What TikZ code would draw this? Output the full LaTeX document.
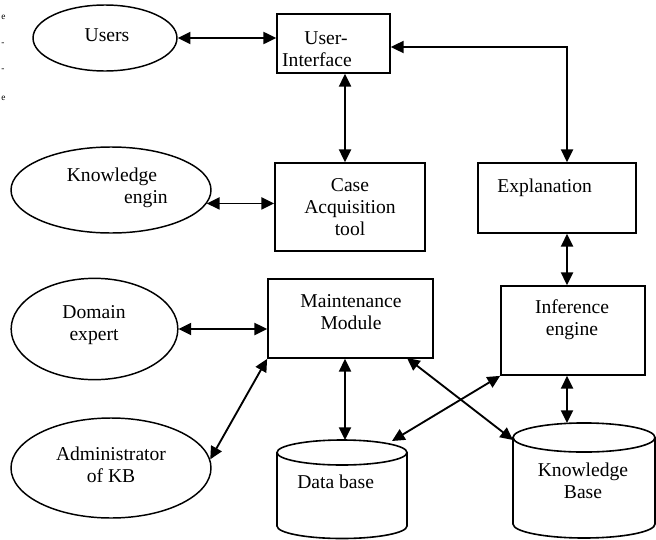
\documentclass[tikz,border=0pt]{standalone}
\usepackage{fontspec}
\setmainfont{Liberation Serif}
\usetikzlibrary{arrows.meta,shapes.geometric}
\begin{document}
\begin{tikzpicture}[x=0.75pt,y=-0.75pt,
  txt/.style={inner sep=0pt,align=center,font=\fontsize{14.7}{16.5}\selectfont},
  frag/.style={inner sep=0pt,anchor=west,font=\fontsize{7}{8}\selectfont},
  boxn/.style={draw,line width=1.3pt,inner sep=0pt},
  ell/.style={draw,ellipse,line width=1.1pt,inner sep=0pt},
  arr/.style={{Triangle[length=9.5pt,width=9pt]}-{Triangle[length=9.5pt,width=9pt]},line width=1.4pt},
  cyl/.style={line width=1.2pt}]
\useasboundingbox (0,0) rectangle (656,539);
% page fragments at left edge
\node[frag] (f1) at (1,17) {e};
\node[frag] (f2) at (1,44) {-};
\node[frag] (f3) at (1,70) {-};
\node[frag] (f4) at (1,98) {e};
% ellipses
\node[ell,minimum width=108pt,minimum height=49.5pt] (users) at (105,38) {};
\node[txt] (userst) at (107,35) {Users};
\node[ell,minimum width=150pt,minimum height=64.5pt] (ke) at (111,190) {};
\node[txt] (ket1) at (112,177) {Knowledge};
\node[txt] (ket2) at (146,199) {engin};
\node[ell,minimum width=125pt,minimum height=76pt] (dom) at (94.5,329) {};
\node[txt] (domt) at (94,325) {Domain\\expert};
\node[ell,minimum width=150pt,minimum height=75pt] (adm) at (111,468) {};
\node[txt] (admt) at (111,465) {Administrator\\of KB};
% boxes
\node[boxn,minimum width=84.75pt,minimum height=44.25pt] (ui) at (333.5,43.5) {};
\node[txt] (uit1) at (326,38) {User-};
\node[txt] (uit2) at (317,60) {Interface};
\node[boxn,minimum width=112.5pt,minimum height=66pt] (case) at (350,207) {};
\node[txt] (caset) at (350,207) {Case\\Acquisition\\tool};
\node[boxn,minimum width=118.5pt,minimum height=52.5pt] (expl) at (557,198) {};
\node[txt,anchor=west] (explt) at (497,188) {Explanation};
\node[boxn,minimum width=123.75pt,minimum height=59.25pt] (maint) at (350.5,318.5) {};
\node[txt] (maintt) at (351,312) {Maintenance\\Module};
\node[boxn,minimum width=108pt,minimum height=66.75pt] (inf) at (573,330.5) {};
\node[txt] (inft) at (572,319.5) {Inference\\engine};
% cylinders
\draw[cyl] (342,452.5) ellipse [x radius=48.75pt,y radius=9.375pt];
\draw[cyl] (277,452.5) -- (277,526) arc[start angle=180,end angle=360,x radius=48.75pt,y radius=9.375pt] -- (407,452.5);
\node[txt,anchor=west] (dbt) at (297,482) {Data base};
\draw[cyl] (584,437.5) ellipse [x radius=53.25pt,y radius=10.9pt];
\draw[cyl] (513,437.5) -- (513,524) arc[start angle=180,end angle=360,x radius=53.25pt,y radius=10.5pt] -- (655,437.5);
\node[txt] (kbt) at (583,481) {Knowledge\\Base};
% anchor coordinates
\coordinate (xc) at (345,0);
\coordinate (xi) at (567,0);
\coordinate (dbtop) at (345,440);
\coordinate (dbright) at (392,441);
\coordinate (kbtop) at (567,423);
\coordinate (kbleft) at (513,440);
\coordinate (mright) at (407,358);
\coordinate (uiy) at (0,47);
% connectors
\draw[arr] (users.east) -- (users.east -| ui.west);
\draw[arr] (ui.east |- uiy) -| (expl.north -| xi);
\draw[arr] (ui.south -| xc) -- (case.north -| xc);
\draw[arr] (ke.-8) -- (ke.-8 -| case.west);
\draw[arr] (dom.east) -- (dom.east -| maint.west);
\draw[arr] (adm.5) -- (maint.south west);
\draw[arr] (maint.south -| xc) -- (dbtop);
\draw[arr] (mright) -- (kbleft);
\draw[arr] (inf.south west) -- (dbright);
\draw[arr] (expl.south -| xi) -- (inf.north -| xi);
\draw[arr] (inf.south -| xi) -- (kbtop);
\end{tikzpicture}
\end{document}
